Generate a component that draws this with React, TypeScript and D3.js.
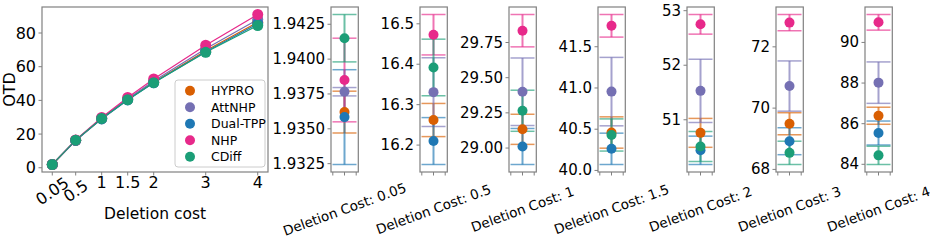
import React from 'react';
import * as d3 from 'd3';

const models = ['HYPRO', 'AttNHP', 'Dual-TPP', 'NHP', 'CDiff'];
const colors = ['#d95f02', '#7570b3', '#1f78b4', '#e7298a', '#1b9e77'];
const costs = [0.05, 0.5, 1, 1.5, 2, 3, 4];
const costLabels = ['0.05', '0.5', '1', '1.5', '2', '3', '4'];

// mean OTD per model, one value per deletion cost
const hyproMean = [1.9362, 16.262, 29.133, 40.46, 50.76, 69.49, 86.39];
const attnhpMean = [1.93766, 16.331, 29.4, 40.956, 51.53, 70.72, 88.02];
const dualMean = [1.93584, 16.21, 29.011, 40.262, 50.44, 68.92, 85.54];
const nhpMean = [1.9385, 16.473, 29.834, 41.754, 52.75, 72.79, 90.99];
const cdiffMean = [1.9415, 16.392, 29.265, 40.43, 50.51, 68.54, 84.44];

// std error bars
const hyproErr = [0.0015, 0.041, 0.107, 0.19, 0.265, 0.36, 0.42];
const attnhpErr = [0.0003, 0.085, 0.24, 0.415, 0.58, 0.82, 1.02];
const dualErr = [0.0034, 0.058, 0.128, 0.19, 0.26, 0.44, 0.59];
const nhpErr = [0.003, 0.05, 0.115, 0.137, 0.18, 0.265, 0.385];
const cdiffErr = [0.0017, 0.07, 0.146, 0.195, 0.275, 0.38, 0.45];

const means = [hyproMean, attnhpMean, dualMean, nhpMean, cdiffMean];
const errs = [hyproErr, attnhpErr, dualErr, nhpErr, cdiffErr];

const mainYTicks = [0, 20, 40, 60, 80];
const panelTicks = [
  ['1.9325', '1.9350', '1.9375', '1.9400', '1.9425'],
  ['16.2', '16.3', '16.4', '16.5'],
  ['29.00', '29.25', '29.50', '29.75'],
  ['40.0', '40.5', '41.0', '41.5'],
  ['51', '52', '53'],
  ['68', '70', '72'],
  ['84', '86', '88', '90'],
];

const FONT = 'DejaVu Sans, sans-serif';
const FRAME = '#808080';
const TOP = 7;
const BOTTOM = 172;

const pad5 = (lo: number, hi: number) => {
  const p = (hi - lo) * 0.05;
  return [lo - p, hi + p];
};

const MainPlot = () => {
  const left = 42, right = 268;
  const x = d3.scaleLinear().domain(pad5(costs[0], costs[costs.length - 1])).range([left, right]);
  const all = means.flat();
  const y = d3.scaleLinear().domain(pad5(d3.min(all)!, d3.max(all)!)).range([BOTTOM, TOP]);
  const line = d3.line<number>().x((_, i) => x(costs[i])).y(d => y(d));

  return (
    <g>
      {means.map((m, k) => (
        <path key={'l' + k} d={line(m)!} fill="none" stroke={colors[k]} strokeWidth={1.2} />
      ))}
      {means.map((m, k) =>
        m.map((v, i) => <circle key={`c${k}-${i}`} cx={x(costs[i])} cy={y(v)} r={5.5} fill={colors[k]} />)
      )}
      <rect x={left} y={TOP} width={right - left} height={BOTTOM - TOP} fill="none" stroke={FRAME} strokeWidth={1.2} />
      {mainYTicks.map(t => (
        <g key={'y' + t}>
          <line x1={left - 3.5} x2={left} y1={y(t)} y2={y(t)} stroke={FRAME} />
          <text x={left - 6} y={y(t)} textAnchor="end" dominantBaseline="central" fontSize={16} fontFamily={FONT}>{t}</text>
        </g>
      ))}
      {costs.map((c, i) => (
        <g key={'x' + i}>
          <line x1={x(c)} x2={x(c)} y1={BOTTOM} y2={BOTTOM + 3.5} stroke={FRAME} />
          {i < 2 ? (
            <text transform={`translate(${x(c)},191) rotate(-35)`} textAnchor="middle" dominantBaseline="central" fontSize={16} fontFamily={FONT}>{costLabels[i]}</text>
          ) : (
            <text x={x(c)} y={188} textAnchor="middle" fontSize={16} fontFamily={FONT}>{costLabels[i]}</text>
          )}
        </g>
      ))}
      <text x={(left + right) / 2} y={219} textAnchor="middle" fontSize={15.5} fontFamily={FONT}>Deletion cost</text>
      <text transform={`translate(15,${(TOP + BOTTOM) / 2}) rotate(-90)`} textAnchor="middle" fontSize={16} fontFamily={FONT}>OTD</text>
      <rect x={175} y={80} width={90} height={87} rx={3} fill="white" fillOpacity={0.8} stroke="#cccccc" />
      {models.map((m, k) => (
        <g key={'lg' + k}>
          <circle cx={190} cy={90.7 + k * 16.5} r={5} fill={colors[k]} />
          <text x={211} y={90.7 + k * 16.5} dominantBaseline="central" fontSize={12.5} fontFamily={FONT}>{m}</text>
        </g>
      ))}
    </g>
  );
};

const Panel = ({ idx }: { idx: number }) => {
  const left = 331 + idx * 89;
  const w = 27.3;
  const cx = left + 13.5;
  const lows = means.map((m, k) => m[idx] - errs[k][idx]);
  const highs = means.map((m, k) => m[idx] + errs[k][idx]);
  const y = d3.scaleLinear().domain(pad5(d3.min(lows)!, d3.max(highs)!)).range([BOTTOM, TOP]);
  const cap = 12;
  return (
    <g>
      {models.map((_, k) => {
        const lo = y(lows[k]);
        const hi = y(highs[k]);
        return (
          <g key={'e' + k} stroke={colors[k]} strokeOpacity={0.65}>
            <line x1={cx} x2={cx} y1={lo} y2={hi} strokeWidth={2} />
            <line x1={cx - cap} x2={cx + cap} y1={lo} y2={lo} strokeWidth={1.5} />
            <line x1={cx - cap} x2={cx + cap} y1={hi} y2={hi} strokeWidth={1.5} />
          </g>
        );
      })}
      {models.map((_, k) => (
        <circle key={'p' + k} cx={cx} cy={y(means[k][idx])} r={5} fill={colors[k]} />
      ))}
      <rect x={left} y={TOP} width={w} height={BOTTOM - TOP} fill="none" stroke={FRAME} strokeWidth={1.2} />
      {[-11.7, 0, 11.7].map(o => (
        <line key={'xt' + o} x1={cx + o} x2={cx + o} y1={BOTTOM} y2={BOTTOM + 3.5} stroke={FRAME} />
      ))}
      {panelTicks[idx].map(t => (
        <g key={'t' + t}>
          <line x1={left - 3.5} x2={left} y1={y(+t)} y2={y(+t)} stroke={FRAME} />
          <text x={left - 6} y={y(+t)} textAnchor="end" dominantBaseline="central" fontSize={15} fontFamily={FONT}>{t}</text>
        </g>
      ))}
      <text transform={`translate(${cx},209) rotate(-20)`} textAnchor="middle" dominantBaseline="central" fontSize={13.5} fontFamily={FONT}>
        {'Deletion Cost: ' + costLabels[idx]}
      </text>
    </g>
  );
};

export default function App() {
  return (
    <svg width={934} height={242} style={{ position: 'absolute', left: 0, top: 0, background: 'white' }}>
      <MainPlot />
      {costs.map((_, i) => <Panel key={i} idx={i} />)}
    </svg>
  );
}
